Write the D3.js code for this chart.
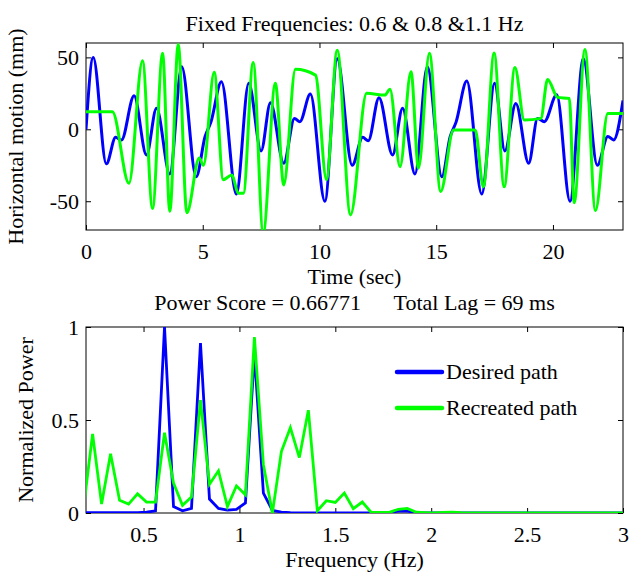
<!DOCTYPE html>
<html>
<head>
<meta charset="utf-8">
<script src="https://cdn.jsdelivr.net/npm/d3@7"></script>
<style>
  body { margin: 0; background: #fff; }
  svg { display: block; font-family: "Liberation Serif", "Times New Roman", serif; }
</style>
</head>
<body>
<svg id="chart"></svg>
<script>
// Top panel: horizontal motion (mm) against time (sec)
const timeDesired = [0, 0.31, 0.87, 1.27, 1.52, 2.06, 2.59, 3.02, 3.59, 4.1, 4.72, 5.1, 5.35, 5.8,
  6.44, 6.97, 7.5, 7.9, 8.47, 8.93, 9.16, 9.61, 10.23, 10.76, 11.4, 11.85, 12.09, 12.55, 13.13,
  13.56, 14.09, 14.62, 15.24, 15.6, 15.85, 16.31, 16.95, 17.5, 17.94, 18.41, 18.96, 19.34, 19.63,
  20.16, 20.73, 21.3, 21.9, 22.35, 22.6, 23];
const desiredMotion = [0, 50, -24, -5.6, -7.4, 23.3, -17.8, 14.6, -31, 43.5, -33, -5, 5, 33,
  -45, 32, -15, 18.5, -23.6, 7.6, 5.3, 24.5, -50, 49, -25, -5.6, -7.9, 22, -17.8,
  14.6, -31, 43.5, -33, -5, 5, 33.5, -45, 32, -15, 18, -23.6, 7.6, 5.3,
  24, -50, 49, -25, -5, -7.4, 20];

const timeRecreated = [0, 1.13, 1.84, 2.42, 2.85, 3.28, 3.59, 3.95, 4.32, 4.85, 5.03, 5.49, 5.88,
  6.25, 6.52, 6.74, 7.16, 7.59, 8.11, 8.47, 8.97, 9.83, 10.3, 10.76, 11.33, 12.02, 12.8, 13.02,
  13.45, 13.92, 14.24, 14.71, 15.19, 15.74, 16.67, 17.02, 17.48, 17.91, 18.37, 18.77, 19.48,
  19.77, 20.2, 20.7, 20.91, 21.37, 21.82, 22.35, 23];
const recreatedMotion = [12.2, 12.2, -37.5, 47.6, -55, 52.8, -57, 59, -58, -20, -25, 39.6, -35,
  -31.7, -44.5, -44.5, 46.5, -72, 32, -38.7, 41.7, 37.7, -35, 55, -59.5, 25, 23.8, 27.8,
  -26, 40, -27, 52.8, -43.3, -0.5, -0.5, -40, 53, -40, 43, 6.5, 7.6,
  34.7, 22.2, 21.5, -51, 55.5, -56.5, 11, 11];

const timeTicks = [0, 5, 10, 15, 20];
const motionTicks = [-50, 0, 50];

// Bottom panel: normalized power spectrum
const frequencies = [0.1875, 0.2344, 0.2813, 0.3281, 0.375, 0.4219, 0.4688, 0.5156, 0.5625, 0.6094,
  0.6563, 0.7031, 0.75, 0.7969, 0.8438, 0.8906, 0.9375, 0.9844, 1.0313, 1.0781, 1.125, 1.1719,
  1.2188, 1.2656, 1.3125, 1.3594, 1.4063, 1.4531, 1.5, 1.5469, 1.5938, 1.6406, 1.6875, 1.7344,
  1.7813, 1.8281, 1.875, 1.9219, 1.9688, 2.0156, 2.0625, 2.1094, 2.1563, 2.2031, 2.25, 2.2969,
  2.3438, 2.3906, 2.4375, 2.4844, 2.5313, 2.5781, 2.625, 2.6719, 2.7188, 2.7656, 2.8125, 2.8594,
  2.9063, 2.9531, 3.0];
const desiredPower = [0.002, 0.002, 0.002, 0.002, 0.002, 0.002, 0.002, 0.004, 0.012, 1.0,
  0.035, 0.012, 0.025, 0.914, 0.075, 0.025, 0.016, 0.02, 0.054, 0.86, 0.107, 0.014,
  0.005, 0.002, 0.001, 0, 0, 0, 0, 0, 0, 0, 0, 0,
  0.002, 0.01, 0.01, 0.002, 0, 0, 0, 0, 0, 0, 0, 0,
  0, 0, 0, 0, 0, 0, 0, 0, 0, 0, 0, 0,
  0, 0, 0];
const recreatedPower = [0.03, 0.425, 0.048, 0.318, 0.068, 0.048, 0.103, 0.059, 0.059, 0.432,
  0.161, 0.041, 0.086, 0.607, 0.155, 0.227, 0.035, 0.146, 0.098, 0.946, 0.26, 0,
  0.33, 0.459, 0.298, 0.553, 0.012, 0.066, 0.057, 0.107, 0.023, 0.059, 0.003, 0.003,
  0.003, 0.02, 0.025, 0.004, 0.002, 0.001, 0.003, 0.005, 0.002, 0.001, 0, 0,
  0, 0, 0, 0, 0, 0, 0, 0, 0, 0, 0, 0,
  0, 0, 0];

const freqTicks = [0.5, 1, 1.5, 2, 2.5, 3];
const powerTicks = [0, 0.5, 1];

const seriesNames = ['Desired path', 'Recreated path'];
const seriesColors = ['#0000ff', '#00ff00'];

const width = 629;
const height = 574;
const fontSize = 22;

const svg = d3.select('#chart')
  .attr('width', width)
  .attr('height', height)
  .attr('viewBox', [0, 0, width, height])
  .style('font-size', `${fontSize}px`);

//
// Draws one MATLAB style box axes with inward ticks on all four sides
//
function panel(id, {
  left, right, top, bottom,
  xDomain, yDomain, xTicks, yTicks,
  xPad, yLabelX, yLabel, xLabel, xLabelY, title, titleY
}) {
  const x = d3.scaleLinear(xDomain, [left, right]);
  const y = d3.scaleLinear(yDomain, [bottom, top]);
  const g = svg.append('g').attr('id', id);

  g.append('rect')
    .attr('x', left).attr('y', top)
    .attr('width', right - left).attr('height', bottom - top)
    .attr('fill', '#fff');

  g.append('clipPath')
    .attr('id', `${id}Clip`)
    .append('rect')
    .attr('x', left).attr('y', top)
    .attr('width', right - left).attr('height', bottom - top);

  // axis groups come with font-size 10 / sans-serif, drop them
  const style = a => a
    .attr('font-size', null)
    .attr('font-family', null)
    .call(a => a.select('.domain').remove())
    .call(a => a.selectAll('.tick line').attr('stroke', '#000').attr('stroke-width', 1))
    .call(a => a.selectAll('text').attr('fill', '#000'));

  // Bottom + top x axes
  g.append('g')
    .attr('transform', `translate(0,${bottom})`)
    .call(d3.axisBottom(x).tickValues(xTicks).tickSizeInner(-5).tickSizeOuter(0)
      .tickPadding(xPad).tickFormat(d => String(d)))
    .call(style);
  g.append('g')
    .attr('transform', `translate(0,${top})`)
    .call(d3.axisTop(x).tickValues(xTicks).tickSizeInner(-5).tickSizeOuter(0).tickFormat(''))
    .call(style);

  // Left + right y axes
  g.append('g')
    .attr('transform', `translate(${left},0)`)
    .call(d3.axisLeft(y).tickValues(yTicks).tickSizeInner(-5).tickSizeOuter(0)
      .tickPadding(7).tickFormat(d => String(d)))
    .call(style);
  g.append('g')
    .attr('transform', `translate(${right},0)`)
    .call(d3.axisRight(y).tickValues(yTicks).tickSizeInner(-5).tickSizeOuter(0).tickFormat(''))
    .call(style);

  g.append('rect')
    .attr('x', left).attr('y', top)
    .attr('width', right - left).attr('height', bottom - top)
    .attr('fill', 'none')
    .attr('stroke', '#000')
    .attr('stroke-width', 1);

  // Labels
  g.append('text')
    .attr('x', (left + right) / 2)
    .attr('y', titleY)
    .attr('text-anchor', 'middle')
    .style('white-space', 'pre')
    .text(title);
  g.append('text')
    .attr('x', (left + right) / 2)
    .attr('y', xLabelY)
    .attr('text-anchor', 'middle')
    .text(xLabel);
  g.append('text')
    .attr('transform', `translate(${yLabelX},${(top + bottom) / 2}) rotate(-90)`)
    .attr('text-anchor', 'middle')
    .text(yLabel);

  const plot = g.append('g').attr('clip-path', `url(#${id}Clip)`);
  return { x, y, plot };
}

// Top panel
const motion = panel('motion', {
  left: 86, right: 623, top: 43, bottom: 230,
  xDomain: [0, 23], yDomain: [-70, 60],
  xTicks: timeTicks, yTicks: motionTicks, xPad: 13,
  yLabelX: 23, yLabel: 'Horizontal motion (mm)',
  xLabel: 'Time (sec)', xLabelY: 284,
  title: 'Fixed Frequencies: 0.6 & 0.8 &1.1 Hz', titleY: 31
});

const motionLine = (T, V) => d3.line()
  .x((d, i) => motion.x(T[i]))
  .y(d => motion.y(d))
  .curve(d3.curveMonotoneX)(V);

motion.plot.append('path')
  .attr('d', motionLine(timeDesired, desiredMotion))
  .attr('fill', 'none')
  .attr('stroke', seriesColors[0])
  .attr('stroke-width', 3);
motion.plot.append('path')
  .attr('d', motionLine(timeRecreated, recreatedMotion))
  .attr('fill', 'none')
  .attr('stroke', seriesColors[1])
  .attr('stroke-width', 3);

// Bottom panel
const power = panel('power', {
  left: 86, right: 623, top: 327, bottom: 513,
  xDomain: [0.2, 3], yDomain: [0, 1],
  xTicks: freqTicks, yTicks: powerTicks, xPad: 13,
  yLabelX: 33, yLabel: 'Normalized Power',
  xLabel: 'Frequency (Hz)', xLabelY: 567,
  title: 'Power Score = 0.66771      Total Lag = 69 ms', titleY: 310
});

const powerLine = d3.line()
  .x((d, i) => power.x(frequencies[i]))
  .y(d => power.y(d));

[desiredPower, recreatedPower].forEach((P, k) => {
  power.plot.append('path')
    .attr('d', powerLine(P))
    .attr('fill', 'none')
    .attr('stroke', seriesColors[k])
    .attr('stroke-width', 2.8)
    .attr('stroke-linejoin', 'miter');
});

// Legend (no box)
const legend = svg.append('g')
  .selectAll('g')
  .data(seriesNames)
  .join('g')
  .attr('transform', (d, i) => `translate(0,${372 + i * 36})`);

legend.append('line')
  .attr('x1', 397).attr('x2', 442)
  .attr('stroke', (d, i) => seriesColors[i])
  .attr('stroke-width', 4.5)
  .attr('stroke-linecap', 'round');

legend.append('text')
  .attr('x', 446)
  .attr('y', 7)
  .text(d => d);
</script>
</body>
</html>
